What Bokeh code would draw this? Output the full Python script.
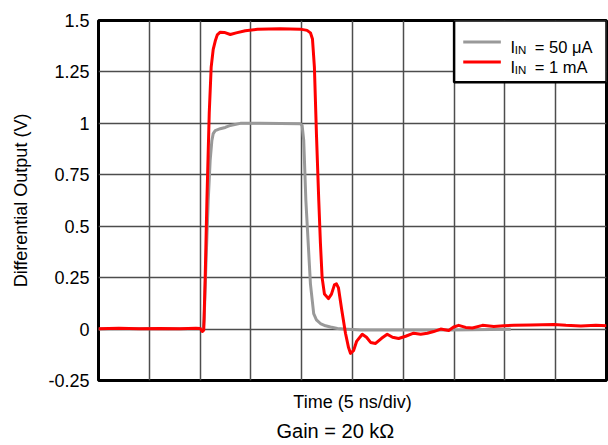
from bokeh.plotting import figure
from bokeh.models import Range1d, FixedTicker, Label, BoxAnnotation, Arrow, Title
from bokeh.embed import file_html
from bokeh.resources import INLINE

# ---- data (time in ns, output in V) ----
red_t = [0.0, 2.0, 4.0, 6.0, 8.0, 9.6, 10.01, 10.21, 10.36, 10.50, 10.67, 10.90, 11.09, 11.29,
         11.49, 11.69, 11.98, 12.38, 12.97, 13.56, 14.45, 15.64, 17.90, 19.87, 20.53, 20.86,
         21.06, 21.25, 21.45, 21.68, 21.84, 22.01, 22.24, 22.63, 22.93, 23.22, 23.42, 23.62,
         23.92, 24.31, 24.61, 24.80, 25.10, 25.40, 25.96, 26.38, 26.78, 27.27, 27.86, 28.42,
         28.94, 29.54, 30.23, 31.02, 31.71, 32.37, 32.99, 33.68, 34.47, 34.96, 35.45, 36.14,
         36.80, 37.79, 38.91, 39.89, 40.88, 42.55, 44.82, 46.00, 47.48, 48.96, 50.0]
red_v = [0.002, 0.004, 0.001, 0.003, 0.002, 0.004, 0.003, -0.012, -0.005, 0.25, 0.625, 1.05, 1.273, 1.36,
         1.40, 1.43, 1.443, 1.442, 1.432, 1.44, 1.45, 1.457, 1.46, 1.458, 1.452, 1.44,
         1.41, 1.273, 0.95, 0.625, 0.42, 0.25, 0.17, 0.148, 0.17, 0.215, 0.22, 0.20,
         0.10, -0.02, -0.09, -0.118, -0.105, -0.06, -0.025, -0.04, -0.065, -0.07, -0.045, -0.025,
         -0.04, -0.046, -0.035, -0.02, -0.025, -0.02, -0.012, 0.0, -0.007, 0.01, 0.018, 0.008,
         0.005, 0.018, 0.013, 0.016, 0.018, 0.02, 0.022, 0.018, 0.015, 0.018, 0.016]

gray_t = [0.0, 5.0, 10.0, 10.31, 10.40, 10.60, 10.80, 10.99, 11.16, 11.29, 11.49, 11.98, 12.48,
          12.97, 13.96, 15.93, 17.90, 19.87, 20.04, 20.20, 20.41, 20.66, 20.86, 21.18, 21.45,
          21.84, 22.34, 22.83, 23.52, 24.11, 25.79, 29.73, 34.66, 38.61, 40.58]
gray_v = [0.0, 0.001, 0.0, 0.0, 0.05, 0.35, 0.625, 0.82, 0.917, 0.95, 0.965, 0.974, 0.98,
          0.99, 1.0, 1.0, 0.999, 0.998, 0.99, 0.917, 0.625, 0.40, 0.22, 0.075, 0.045,
          0.027, 0.016, 0.01, 0.003, 0.0, -0.004, -0.005, -0.004, -0.002, -0.001]

x_grid_ticks = [0, 5, 10, 15, 20, 25, 30, 35, 40, 45, 50]
y_ticks = [-0.25, 0.0, 0.25, 0.5, 0.75, 1.0, 1.25, 1.5]
y_tick_labels = ["-0.25", "0", "0.25", "0.5", "0.75", "1", "1.25", "1.5"]

series_main = ["I", "I"]
series_sub = ["IN", "IN"]
series_rest = ["= 50 \u03bcA", "= 1 mA"]
series_colors = ["#999999", "#ff0000"]

FONT = "Liberation Sans"

p = figure(width=608, height=445, x_range=Range1d(0, 50), y_range=Range1d(-0.25, 1.5),
           output_backend="svg", toolbar_location=None,
           min_border_left=98, min_border_right=2, min_border_top=20, min_border_bottom=65)
p.background_fill_color = "white"
p.border_fill_color = "white"
p.outline_line_color = "black"
p.outline_line_width = 3

p.xgrid.ticker = FixedTicker(ticks=x_grid_ticks)
p.ygrid.ticker = FixedTicker(ticks=y_ticks)
for g in (p.xgrid, p.ygrid):
    g.grid_line_color = "#4d4d4d"
    g.grid_line_width = 1.5
    g.grid_line_alpha = 1.0

xa = p.xaxis[0]
xa.ticker = FixedTicker(ticks=[])
xa.axis_line_color = None
xa.major_tick_line_color = None
xa.minor_tick_line_color = None
xa.major_tick_out = 0
xa.major_label_standoff = 0
xa.axis_label = "Time (5 ns/div)"
xa.axis_label_text_font = FONT
xa.axis_label_text_font_size = "18px"
xa.axis_label_text_font_style = "normal"
xa.axis_label_text_color = "black"
xa.axis_label_standoff = 11

ya = p.yaxis[0]
ya.ticker = FixedTicker(ticks=y_ticks)
ya.major_label_overrides = dict(zip(y_ticks, y_tick_labels))
ya.axis_line_color = None
ya.major_tick_line_color = None
ya.minor_tick_line_color = None
ya.major_tick_out = 0
ya.major_label_standoff = 9
ya.major_label_text_font = FONT
ya.major_label_text_font_size = "18px"
ya.major_label_text_color = "black"
ya.axis_label = "Differential Output (V)"
ya.axis_label_text_font = FONT
ya.axis_label_text_font_size = "18px"
ya.axis_label_text_font_style = "normal"
ya.axis_label_text_color = "black"
ya.axis_label_standoff = 14

p.line(gray_t, gray_v, line_color=series_colors[0], line_width=3, line_join="round")
p.line(red_t, red_v, line_color=series_colors[1], line_width=3, line_join="round")

# legend (drawn manually for the subscript)
p.add_layout(BoxAnnotation(left=35, right=50, top=1.5, bottom=1.2, fill_color="white",
                           fill_alpha=1.0, line_color="black", line_width=2.5, line_alpha=1.0))
leg_y_line = [1.395, 1.298]
leg_y_base = [1.369, 1.272]
for i in range(2):
    p.add_layout(Arrow(end=None, x_start=35.9, x_end=39.6, y_start=leg_y_line[i], y_end=leg_y_line[i],
                       line_color=series_colors[i], line_width=3))
    p.add_layout(Label(x=40.55, y=leg_y_base[i], text=series_main[i], text_font=FONT,
                       text_font_size="16.5px", text_baseline="alphabetic", text_color="black"))
    p.add_layout(Label(x=40.98, y=leg_y_base[i] - 0.013, text=series_sub[i], text_font=FONT,
                       text_font_size="11.5px", text_baseline="alphabetic", text_color="black"))
    p.add_layout(Label(x=42.95, y=leg_y_base[i], text=series_rest[i], text_font=FONT,
                       text_font_size="16.5px", text_baseline="alphabetic", text_color="black"))

p.add_layout(Title(text="Gain = 20 k\u03a9", text_font=FONT, text_font_size="20px",
                   text_font_style="normal", text_color="black", align="left", offset=174,
                   standoff=7, padding=(4, 0, 0, 0)), "below")

open("out.html", "w").write(file_html(p, INLINE))
